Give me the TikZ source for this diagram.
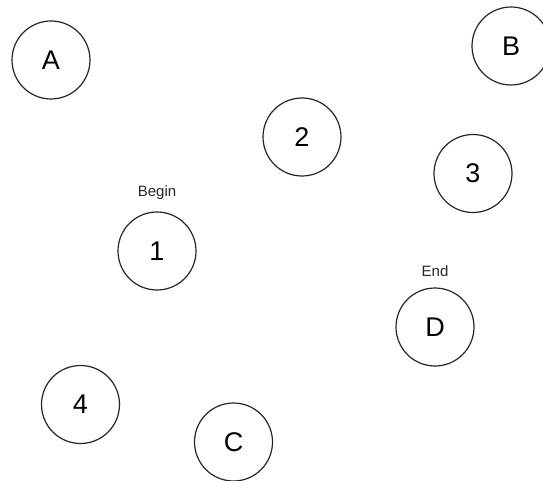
\documentclass[tikz,border=0pt]{standalone}
\usepackage{fontspec}
\setmainfont{Liberation Sans}
\begin{document}
\begin{tikzpicture}[x=1pt,y=-1pt,
  st/.style={circle,draw=black!85,line width=1.2pt,minimum size=78pt,inner sep=0pt,font=\fontsize{27}{27}\selectfont},
  lbl/.style={font=\fontsize{15}{15}\selectfont,inner sep=0pt,text=black!85}]
\useasboundingbox[fill=white] (0,0) rectangle (543,481);
\node[st] (A) at (51,60) {A};
\node[st] (B) at (511,46) {B};
\node[st] (n2) at (302,137) {2};
\node[st] (n3) at (473,173.5) {3};
\node[st] (n1) at (157,251) {1};
\node[st] (D) at (435,327) {D};
\node[st] (n4) at (80.5,404.5) {4};
\node[st] (C) at (233.5,442) {C};
\node[lbl] (begin) at (157,193) {Begin};
\node[lbl] (end) at (435,271) {End};
\end{tikzpicture}
\end{document}
